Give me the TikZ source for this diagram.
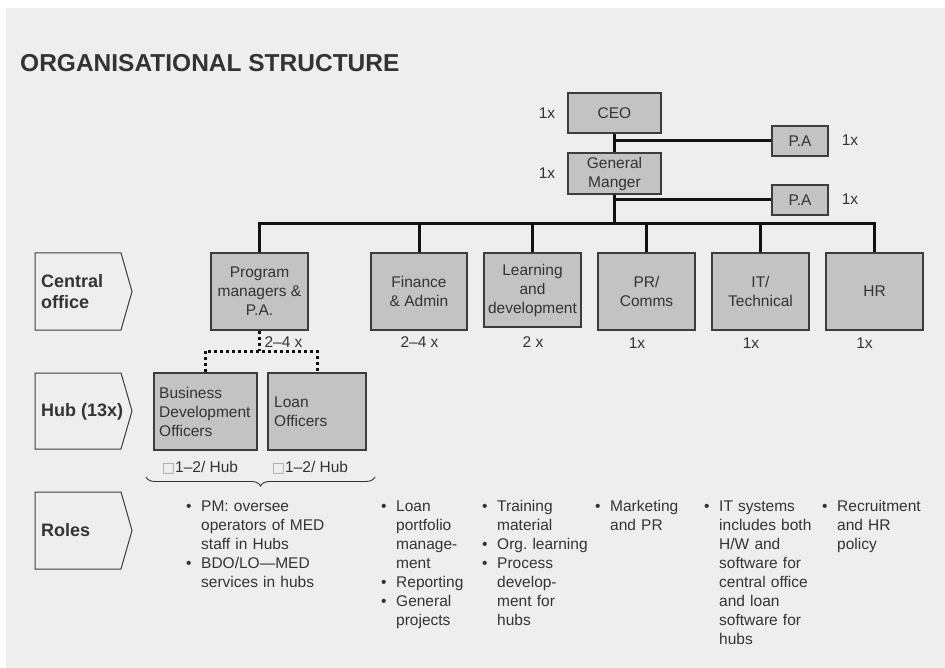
\documentclass[tikz,border=0pt]{standalone}
\usepackage{fontspec}
\setmainfont{Liberation Sans}
\newfontfamily\symfont{DejaVu Sans}
\usetikzlibrary{decorations.pathreplacing}
\frenchspacing

\definecolor{bgcol}{HTML}{EEEEEE}
\definecolor{boxfill}{HTML}{C3C3C3}
\definecolor{boxline}{HTML}{3C3C3C}
\definecolor{txt}{HTML}{333333}
\definecolor{wire}{HTML}{111111}

\newcommand\bodyfont{\fontsize{15.5}{19}\selectfont}
\newcommand\tagfont{\bfseries\fontsize{18}{21}\selectfont}
% bullet item with hanging indent; lines are broken with \newline
\newcommand\itm{\par\noindent\hangindent=15pt\hangafter=1\strut\makebox[15pt][l]{\textbullet}\ignorespaces}
\newcommand\nobox{{\symfont\fontsize{14}{12}\selectfont\textcolor{gray!75}{□}}}

\tikzset{
  orgbox/.style={draw=boxline, fill=boxfill, line width=1.2pt, inner sep=0pt,
    align=center, font=\bodyfont, text=txt},
  conn/.style={draw=wire, line width=3pt},
  dotconn/.style={draw=wire, line width=3pt, dash pattern=on 3pt off 3pt},
  lbl/.style={font=\bodyfont, text=txt, inner sep=0pt},
  tagshape/.style={draw=boxline, line width=1pt},
  tagtext/.style={font=\tagfont, text=txt, align=left, inner sep=0pt, anchor=west},
  roles/.style={font=\bodyfont, text=txt, text width=150pt, align=left,
    inner sep=0pt, anchor=north west},
}

\begin{document}
\begin{tikzpicture}[x=1pt,y=-1pt]
\useasboundingbox (0,0) rectangle (945,668);
\fill[bgcol] (6,8) rectangle (945,668);

% title
\node[font=\bfseries\fontsize{24.5}{28}\selectfont, text=txt, anchor=base west, inner sep=0pt]
  (title) at (20,72) {ORGANISATIONAL STRUCTURE};

% top management
\node[orgbox, minimum width=93pt, minimum height=40pt] (ceo) at (614.5,113) {CEO};
\node[orgbox, minimum width=93pt, minimum height=41pt] (gm) at (614.5,173.5) {General\\Manger};
\node[orgbox, minimum width=56pt, minimum height=30pt] (pa1) at (800,141) {P.A};
\node[orgbox, minimum width=56pt, minimum height=30pt] (pa2) at (800,200) {P.A};
\node[lbl] (n-ceo) at (547,113) {1x};
\node[lbl] (n-gm) at (547,173) {1x};
\node[lbl] (n-pa1) at (850,140) {1x};
\node[lbl] (n-pa2) at (850,199) {1x};

% central office units
\node[orgbox, minimum width=97pt, minimum height=77pt] (prog) at (259.5,291.5) {Program\\managers \&\\P.A.};
\node[orgbox, minimum width=96pt, minimum height=77pt] (fin) at (419,291.5) {Finance\\\& Admin};
\node[orgbox, minimum width=97pt, minimum height=74pt] (learn) at (532.5,290) {Learning\\and\\development};
\node[orgbox, minimum width=97pt, minimum height=77pt] (pr) at (646.5,291.5) {PR/\\Comms};
\node[orgbox, minimum width=97pt, minimum height=77pt] (it) at (760.5,291.5) {IT/\\Technical};
\node[orgbox, minimum width=97pt, minimum height=77pt] (hr) at (874.5,291.5) {HR};

\node[lbl] (n-prog) at (283.5,342) {2--4 x};
\node[lbl] (n-fin) at (419.5,342) {2--4 x};
\node[lbl] (n-learn) at (533,342) {2 x};
\node[lbl] (n-pr) at (637,343) {1x};
\node[lbl] (n-it) at (751,343) {1x};
\node[lbl] (n-hr) at (864.5,343) {1x};

% hub units
\node[orgbox, minimum width=103pt, minimum height=77pt] (bdo) at (205.5,411.5) {};
\node[lbl, align=left, anchor=west] (bdo-t) at (159,412) {Business\\Development\\Officers};
\node[orgbox, minimum width=98pt, minimum height=77pt] (loan) at (317,411.5) {};
\node[lbl, align=left, anchor=west] (loan-t) at (274,412) {Loan\\Officers};

\node[lbl, anchor=base] (n-bdo) at (200,472) {\nobox1--2/ Hub};
\node[lbl, anchor=base] (n-loan) at (310,472) {\nobox1--2/ Hub};

% reporting lines
\coordinate (bus) at (0,224);
\draw[conn] (ceo.south) -- (gm.north);
\draw[conn] (ceo.south |- pa1.west) -- (pa1.west);
\draw[conn] (gm.south |- pa2.west) -- (pa2.west);
\draw[conn] (gm.south) -- (gm.south |- bus);
\draw[conn] (prog.north) -- (prog.north |- bus) -- (hr.north |- bus) -- (hr.north);
\foreach \b in {fin,learn,pr,it}
  \draw[conn] (\b.north) -- (\b.north |- bus);

\coordinate (split) at (259.5,351);
\draw[dotconn] (prog.south) -- (split);
\draw[dotconn] (bdo.north) -- (bdo.north |- split) -- (loan.north |- split) -- (loan.north);

% brace gathering the hub staff
\coordinate (brL) at (146,477);
\coordinate (brR) at (375,477);
\draw[draw=txt, line width=0.9pt, decorate, decoration={brace, mirror, amplitude=9pt}] (brL) -- (brR);

% row tags
\draw[tagshape] (35,253) -- (121,253) -- (132,291.5) -- (121,330) -- (35,330) -- cycle;
\draw[tagshape] (35,373) -- (121,373) -- (132,411) -- (121,449) -- (35,449) -- cycle;
\draw[tagshape] (35,492) -- (121,492) -- (132,530.5) -- (121,569) -- (35,569) -- cycle;
\node[tagtext] (t-central) at (41,292) {Central\\office};
\node[tagtext] (t-hub) at (41,412) {Hub (13x)};
\node[tagtext] (t-roles) at (41,530.5) {Roles};

% roles
\node[roles] (r1) at (186,492) {\itm PM: oversee\newline operators of MED\newline staff in Hubs
  \itm BDO/LO—MED\newline services in hubs\par};
\node[roles] (r2) at (381,492) {\itm Loan\newline portfolio\newline manage-\newline ment
  \itm Reporting \itm General\newline projects\par};
\node[roles] (r3) at (482,492) {\itm Training\newline material \itm Org. learning
  \itm Process\newline develop-\newline ment for\newline hubs\par};
\node[roles] (r4) at (595,492) {\itm Marketing\newline and PR\par};
\node[roles] (r5) at (704,492) {\itm IT systems\newline includes both\newline H/W and\newline software for\newline central office\newline and loan\newline software for\newline hubs\par};
\node[roles] (r6) at (822,492) {\itm Recruitment\newline and HR\newline policy\par};
\end{tikzpicture}
\end{document}
